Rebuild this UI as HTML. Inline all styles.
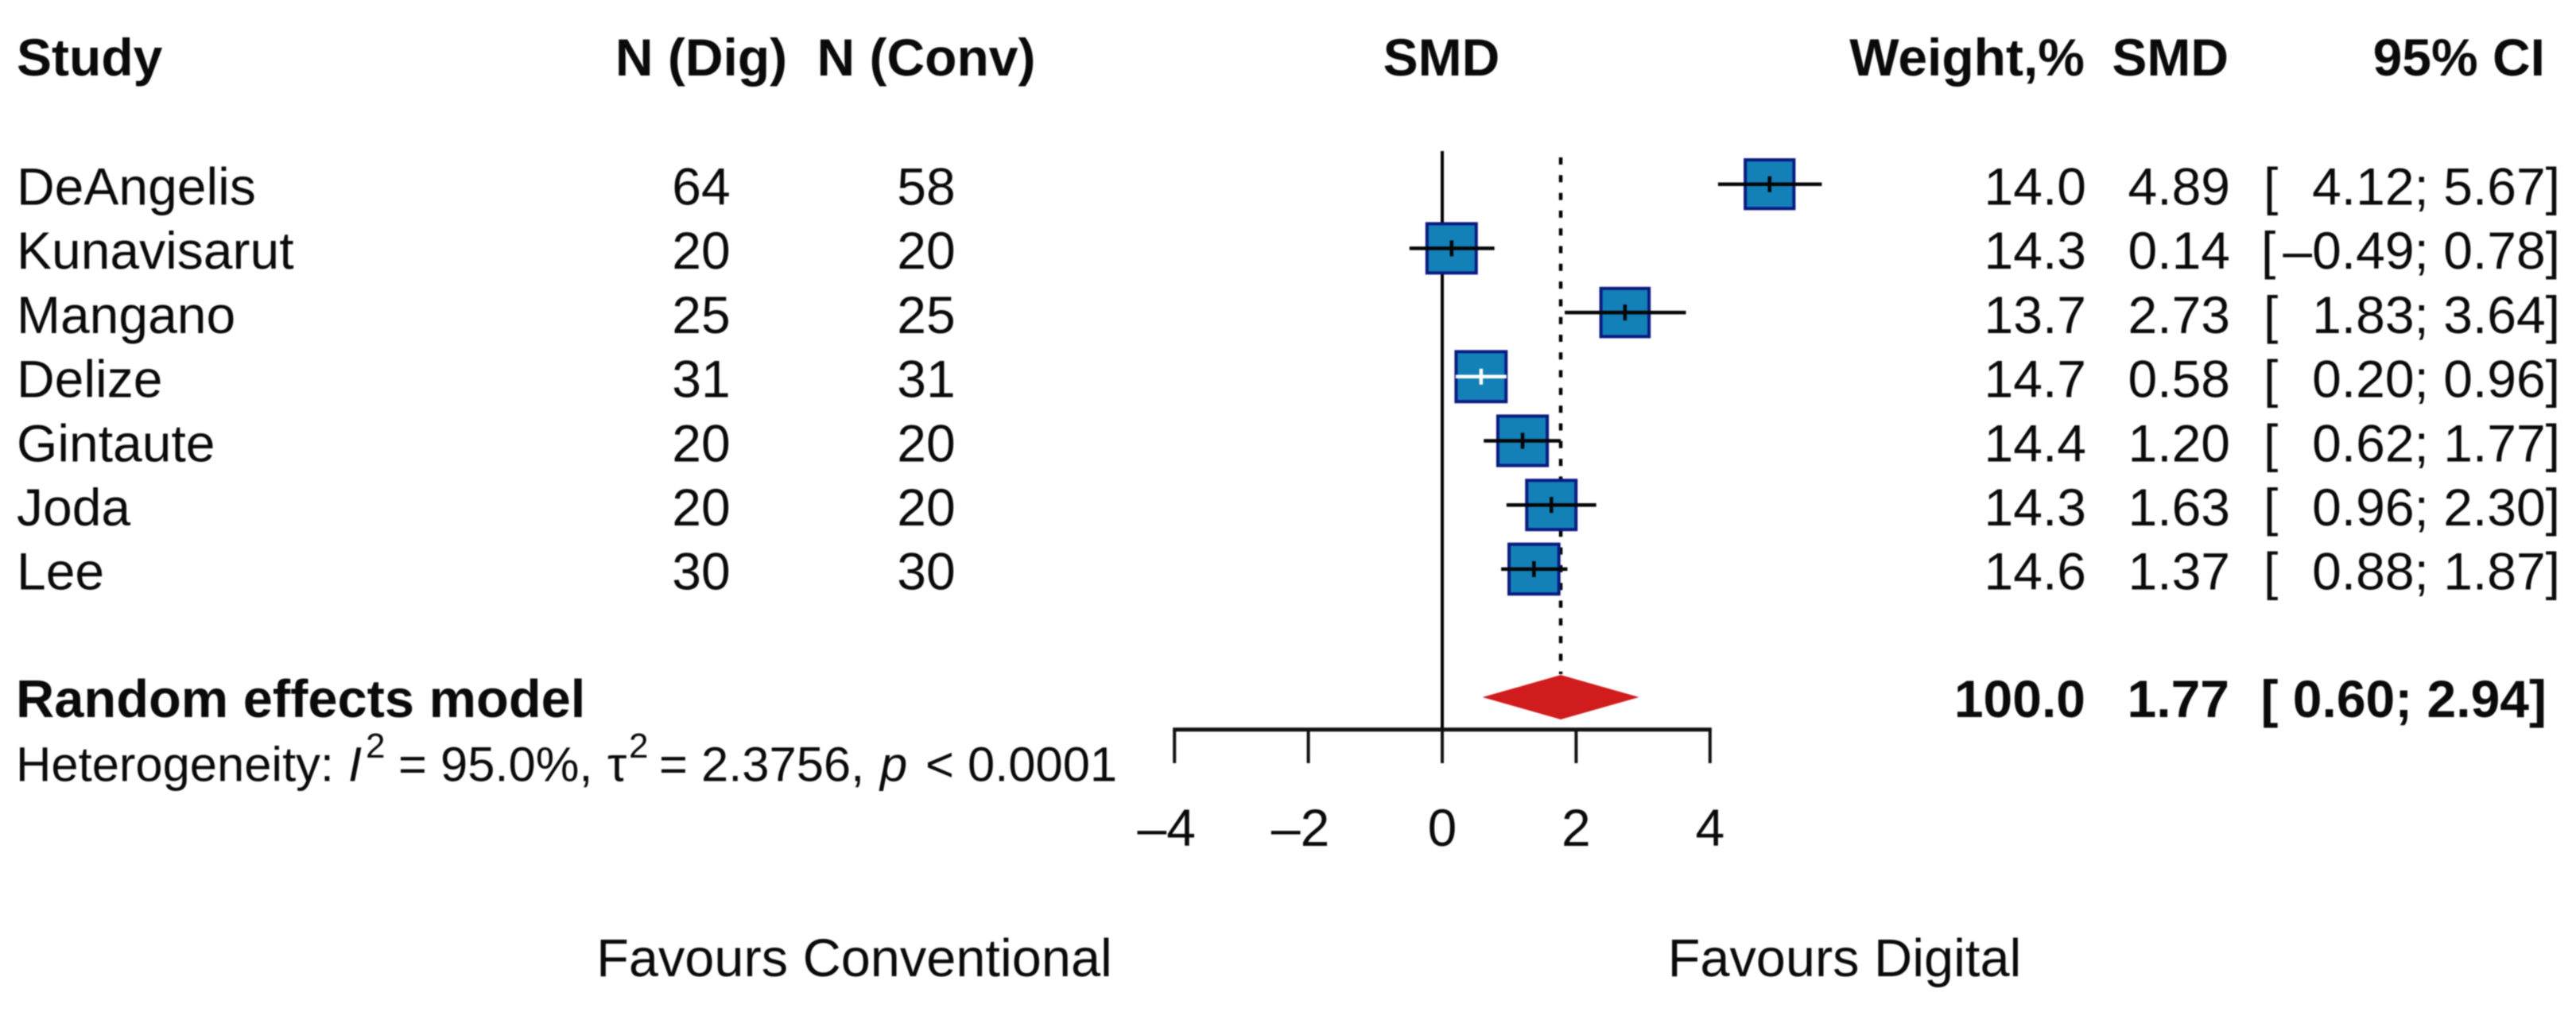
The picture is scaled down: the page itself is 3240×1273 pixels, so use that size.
<!DOCTYPE html>
<html lang="en">
<head>
<meta charset="utf-8">
<title>Forest plot: SMD Digital vs Conventional</title>
<style>
html,body{margin:0;padding:0;background:#fff;width:3240px;height:1273px;overflow:hidden}
svg{display:block;filter:blur(0.7px)}
text{font-family:"Liberation Sans",Arial,sans-serif;font-size:66px;fill:#0a0a0a}
.b{font-weight:bold}
.m{text-anchor:middle}
.e{text-anchor:end}
</style>
</head>
<body>
<svg id="chart" xmlns="http://www.w3.org/2000/svg" width="3240" height="1273" viewBox="0 0 3240 1273">
  <rect width="3240" height="1273" fill="#fff"/>
  <g>
    <text class="b" x="21" y="95">Study</text>
    <text class="b m" x="882" y="95">N (Dig)</text>
    <text class="b m" x="1165" y="95">N (Conv)</text>
    <text class="b m" x="1813" y="95">SMD</text>
    <text class="b e" x="2622" y="95">Weight,%</text>
    <text class="b e" x="2803" y="95">SMD</text>
    <text class="b e" x="3201" y="95">95% CI</text>
  </g>
  <g id="rows"></g>
  <g id="plot"></g>
  <g>
    <text class="b" x="20" y="902" style="font-size:66.8px">Random effects model</text>
    <text class="b e" x="2623" y="902">100.0</text>
    <text class="b e" x="2804" y="902">1.77</text>
    <text class="b e" x="3203" y="902">[ 0.60; 2.94]</text>
  </g>
  <text y="982.7" style="font-size:61.5px"><tspan x="20">Heterogeneity:</tspan><tspan x="438" font-style="italic">I</tspan><tspan x="460" y="953" style="font-size:44px">2</tspan><tspan x="501" y="982.7">= 95.0%,</tspan><tspan x="764">τ</tspan><tspan x="791" y="953" style="font-size:44px">2</tspan><tspan x="829" y="982.7">= 2.3756,</tspan><tspan x="1107" font-style="italic">p</tspan><tspan x="1164">&lt; 0.0001</tspan></text>
  <text class="m" x="1074.5" y="1228" style="font-size:66.7px">Favours Conventional</text>
  <text class="m" x="2320" y="1228" style="font-size:66.7px">Favours Digital</text>
</svg>
<script>
const studies = ["DeAngelis","Kunavisarut","Mangano","Delize","Gintaute","Joda","Lee"];
const nDigital = [64,20,25,31,20,20,30];
const nConventional = [58,20,25,31,20,20,30];
const weights = [14.0,14.3,13.7,14.7,14.4,14.3,14.6];
const smd = [4.89,0.14,2.73,0.58,1.20,1.63,1.37];
const ciLower = [4.12,-0.49,1.83,0.20,0.62,0.96,0.88];
const ciUpper = [5.67,0.78,3.64,0.96,1.77,2.30,1.87];
const summarySmd = [1.77];
const summaryLower = [0.60];
const summaryUpper = [2.94];
const xTicks = [-4,-2,0,2,4];

const NS = "http://www.w3.org/2000/svg";
const xScale = v => 1814 + v * 84.2;
const yRow = i => 231.7 + i * 80.7;
const baseRow = i => 257.5 + i * 80.7;
const rowsG = document.getElementById("rows");
const plotG = document.getElementById("plot");

function mk(tag, attrs, parent) {
  const el = document.createElementNS(NS, tag);
  for (const k in attrs) el.setAttribute(k, attrs[k]);
  parent.appendChild(el);
  return el;
}
function fmt(v) {
  return (v < 0 ? "\u2013" : "") + Math.abs(v).toFixed(2);
}

studies.forEach((s, i) => {
  const nameT = mk("text", {x: 21, y: baseRow(i)}, rowsG);
  
  
  nameT.textContent = s;

  const digT = mk("text", {x: 882, y: baseRow(i), class: "m"}, rowsG);
  
  
  digT.textContent = nDigital[i];

  const convT = mk("text", {x: 1165, y: baseRow(i), class: "m"}, rowsG);
  
  
  convT.textContent = nConventional[i];

  const wT = mk("text", {x: 2624, y: baseRow(i), class: "e"}, rowsG);
  
  
  wT.textContent = weights[i].toFixed(1);

  const sT = mk("text", {x: 2805, y: baseRow(i), class: "e"}, rowsG);
  
  
  sT.textContent = smd[i].toFixed(2);

  const brT = mk("text", {x: ciLower[i] < 0 ? 2844 : 2847, y: baseRow(i)}, rowsG);
  
  
  brT.textContent = "[";

  const ciT = mk("text", {x: 3220, y: baseRow(i), class: "e"}, rowsG);
  
  
  ciT.textContent = fmt(ciLower[i]) + "; " + fmt(ciUpper[i]) + "]";
});

/* reference line at zero */
const refLine = mk("line", {x1: xScale(0), x2: xScale(0), y1: 190, y2: 918, stroke: "#000", "stroke-width": 4}, plotG);



/* summary dotted line */
const sumLine = mk("line", {x1: xScale(summarySmd[0]), x2: xScale(summarySmd[0]), y1: 198, y2: 848, stroke: "#000", "stroke-width": 4.5, "stroke-dasharray": "9 13.3"}, plotG);



/* study markers */
studies.forEach((s, i) => {
  const size = Math.sqrt(weights[i]) * 17.45;
  const cx = xScale(smd[i]), cy = yRow(i);
  const mark = (i === 3) ? "#fff" : "#050505";

  const box = mk("rect", {x: cx - size / 2 + 2, y: cy - size / 2 + 2, width: size - 4, height: size - 4, fill: "#1380b8", stroke: "#0b1a80", "stroke-width": 4}, plotG);
  
  

  const ci = mk("line", {x1: xScale(ciLower[i]), x2: xScale(ciUpper[i]), y1: cy, y2: cy, stroke: mark, "stroke-width": 4.5}, plotG);
  
  

  const tick = mk("line", {x1: cx, x2: cx, y1: cy - 10, y2: cy + 10, stroke: mark, "stroke-width": 4.5}, plotG);
  
  
});

/* summary diamond */
const dCx = xScale(summarySmd[0]), dCy = 877;
const diamond = mk("polygon", {points: [xScale(summaryLower[0]) + "," + dCy, dCx + "," + (dCy - 28), xScale(summaryUpper[0]) + "," + dCy, dCx + "," + (dCy + 28)].join(" "), fill: "#d01c1c"}, plotG);



/* x axis */
const axis = mk("line", {x1: xScale(xTicks[0]) - 2, x2: xScale(xTicks[xTicks.length - 1]) + 2, y1: 917.7, y2: 917.7, stroke: "#111", "stroke-width": 5}, plotG);



xTicks.forEach(t => {
  const tk = mk("line", {x1: xScale(t), x2: xScale(t), y1: 917.7, y2: 960, stroke: "#111", "stroke-width": 4}, plotG);
  
  

  const lb = mk("text", {x: xScale(t) - (t < 0 ? 10 : 0), y: 1064, class: "m"}, plotG);
  
  
  lb.textContent = (t < 0 ? "\u2013" : "") + Math.abs(t);
});
</script>
</body>
</html>
